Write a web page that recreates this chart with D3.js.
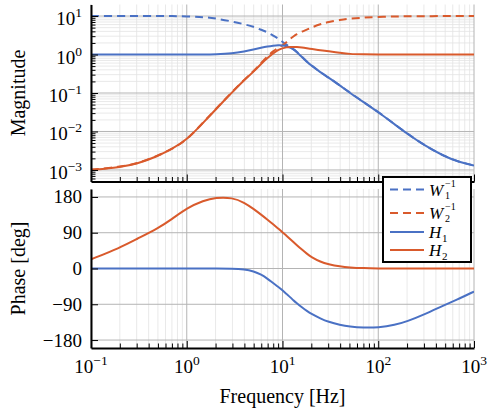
<!DOCTYPE html>
<meta charset="utf-8">
<script src="https://d3js.org/d3.v7.min.js"></script>
<style>
  body { margin: 0; background: #fff; }
</style>
<div id="my_dataviz"></div>
<script>

// frequencies in Hz (log spaced samples)
var freqs = [0.1, 0.2, 0.3, 0.5, 0.7, 1, 1.5, 2, 3, 4, 5, 6, 7, 8, 9, 10, 11, 12, 13, 14,
             16, 18, 20, 25, 30, 40, 50, 70, 100, 150, 200, 300, 500, 700, 1000];

// magnitudes
var magW1inv = [10, 10, 10, 10, 9.98, 9.85, 9.4, 8.7, 7.2, 6.1, 5.3, 4.35, 3.8, 3.1, 2.6,
                2.15, 1.8, 1.55, 1.38, 1.2, 0.87, 0.65, 0.525, 0.343, 0.257, 0.156, 0.104,
                0.0585, 0.0323, 0.0151, 0.0089, 0.00443, 0.00221, 0.00161, 0.00131];
var magW2inv = [0.00102, 0.0012, 0.00145, 0.00235, 0.00347, 0.006, 0.0176, 0.0377, 0.109,
                0.224, 0.37, 0.6, 0.92, 1.22, 1.5, 1.72, 2.1, 2.55, 2.95, 3.35, 3.95, 4.45,
                5.0, 6.2, 7.0, 7.9, 8.55, 9.1, 9.5, 9.75, 9.85, 9.93, 9.97, 10, 10];
var magH1 = [1, 1, 1, 1, 1, 1, 1, 1.01, 1.06, 1.2, 1.35, 1.5, 1.62, 1.7, 1.75, 1.74, 1.65,
             1.52, 1.36, 1.19, 0.86, 0.64, 0.52, 0.34, 0.255, 0.155, 0.103, 0.058, 0.032,
             0.015, 0.0088, 0.0044, 0.0022, 0.0016, 0.0013];
var magH2 = [0.001, 0.00118, 0.00142, 0.0023, 0.0035, 0.006, 0.0173, 0.037, 0.107, 0.22,
             0.36, 0.58, 0.82, 1.08, 1.31, 1.46, 1.54, 1.58, 1.58, 1.57, 1.52, 1.45, 1.39,
             1.29, 1.22, 1.11, 1.03, 1.01, 1, 1, 1, 1, 1, 1, 1];

// phases in degrees
var phaseH1 = [0, 0, 0, 0, 0, 0, 0, 0, 0, -2, -7, -15, -26, -37, -46, -55, -64, -72, -80,
               -87, -98, -107, -114, -126, -134, -142, -146, -149, -148.5, -142, -133, -116,
               -91, -76, -58];
var phaseH2 = [23, 52, 74, 101, 124, 152, 171, 178.5, 178.5, 166, 149.7, 135.3, 122.5, 111,
               100.7, 91.5, 82.3, 74, 66.5, 59.5, 47.2, 37, 29, 16.5, 11, 5, 2.6, 0.8, 0.2,
               0, 0, 0, 0, 0, 0];

// ticks
var freqTicks = [0.1, 1, 10, 100, 1000];
var freqExps = ["\u22121", "0", "1", "2", "3"];
var magTicks = [0.001, 0.01, 0.1, 1, 10];
var magExps = ["\u22123", "\u22122", "\u22121", "0", "1"];
var phaseTicks = [-180, -90, 0, 90, 180];

var blue = "#4a71c4", red = "#d95a2c";
var serif = "Liberation Serif";

var series = [
  {name: "W1", mag: magW1inv, color: blue, dash: "8,5"},
  {name: "W2", mag: magW2inv, color: red, dash: "8,5"},
  {name: "H1", mag: magH1, phase: phaseH1, color: blue, dash: null},
  {name: "H2", mag: magH2, phase: phaseH2, color: red, dash: null}
];

var W = 498, H = 417;
var svg = d3.select("#my_dataviz").append("svg")
  .attr("width", W).attr("height", H);

var x = d3.scaleLog().domain([0.1, 1000]).range([91, 474]);
var yMag = d3.scaleLog().domain([Math.pow(10, -3.3), Math.pow(10, 1.3)]).range([181.5, 4.5]);
var yPh = d3.scaleLinear().domain([-200, 200]).range([348, 189]);

// minor tick values
var minorX = [];
[0.1, 1, 10, 100].forEach(function(d) {
  for (var k = 2; k <= 9; k++) minorX.push(d * k);
});
var minorMag = [];
[0.0001, 0.001, 0.01, 0.1, 1, 10].forEach(function(d) {
  for (var k = 2; k <= 9; k++) {
    var v = d * k;
    if (v > yMag.domain()[0] && v < yMag.domain()[1]) minorMag.push(v);
  }
});

function panel(y, top, bottom, minorY, majorY) {
  var g = svg.append("g");
  // minor grid
  g.selectAll(".mgx").data(minorX).enter().append("line")
    .attr("x1", x).attr("x2", x).attr("y1", top).attr("y2", bottom)
    .attr("stroke", "#e3e3e3").attr("stroke-width", 0.8);
  g.selectAll(".mgy").data(minorY).enter().append("line")
    .attr("x1", 91).attr("x2", 474).attr("y1", y).attr("y2", y)
    .attr("stroke", "#e3e3e3").attr("stroke-width", 0.8);
  // major grid
  g.selectAll(".gx").data(freqTicks).enter().append("line")
    .attr("x1", x).attr("x2", x).attr("y1", top).attr("y2", bottom)
    .attr("stroke", "#b4b4b4").attr("stroke-width", 1);
  g.selectAll(".gy").data(majorY).enter().append("line")
    .attr("x1", 91).attr("x2", 474).attr("y1", y).attr("y2", y)
    .attr("stroke", "#b4b4b4").attr("stroke-width", 1);
  return g;
}

panel(yMag, 4.5, 181.5, minorMag, magTicks);
panel(yPh, 189, 348, [], phaseTicks);

// clip paths
var defs = svg.append("defs");
defs.append("clipPath").attr("id", "clipMag").append("rect")
  .attr("x", 91).attr("y", 4.5).attr("width", 383).attr("height", 177);
defs.append("clipPath").attr("id", "clipPh").append("rect")
  .attr("x", 91).attr("y", 189).attr("width", 383).attr("height", 159);

// curves
series.forEach(function(s) {
  var pts = freqs.map(function(f, i) { return {f: f, v: s.mag[i]}; });
  var line = d3.line()
    .x(function(d) { return x(d.f); })
    .y(function(d) { return yMag(d.v); })
    .curve(d3.curveBasis);
  svg.append("path").datum(pts)
    .attr("clip-path", "url(#clipMag)")
    .attr("d", line)
    .attr("fill", "none").attr("stroke", s.color).attr("stroke-width", 2)
    .attr("stroke-dasharray", s.dash);
  if (s.phase) {
    var ppts = freqs.map(function(f, i) { return {f: f, v: s.phase[i]}; });
    var pline = d3.line()
      .x(function(d) { return x(d.f); })
      .y(function(d) { return yPh(d.v); })
      .curve(d3.curveBasis);
    svg.append("path").datum(ppts)
      .attr("clip-path", "url(#clipPh)")
      .attr("d", pline)
      .attr("fill", "none").attr("stroke", s.color).attr("stroke-width", 2);
  }
});

// axes: ticks inside
function xAxis(yPos, labels) {
  svg.append("g").attr("transform", "translate(0," + yPos + ")")
    .call(d3.axisBottom(x).tickValues(minorX).tickSize(-4.5).tickSizeOuter(0).tickFormat(""))
    .call(function(g) { g.select(".domain").remove(); });
  var ax = svg.append("g").attr("transform", "translate(0," + yPos + ")")
    .call(d3.axisBottom(x).tickValues(freqTicks).tickSize(-7).tickSizeOuter(0).tickFormat(""));
  ax.select(".domain").attr("stroke-width", 2);
  if (labels) {
    var t = svg.selectAll(".xlab").data(freqTicks).enter().append("text")
      .attr("x", function(d) { return x(d); })
      .attr("y", yPos + 25)
      .attr("text-anchor", "middle")
      .attr("font-family", serif)
      .attr("font-size", 19);
    t.append("tspan").text("10");
    t.append("tspan").attr("dy", -8).attr("font-size", 13.5)
      .text(function(d, i) { return freqExps[i]; });
  }
}
xAxis(181.5, false);
xAxis(348, true);

// magnitude y axis
svg.append("g").attr("transform", "translate(91,0)")
  .call(d3.axisLeft(yMag).tickValues(minorMag).tickSize(-4.5).tickSizeOuter(0).tickFormat(""))
  .call(function(g) { g.select(".domain").remove(); });
var ay = svg.append("g").attr("transform", "translate(91,0)")
  .call(d3.axisLeft(yMag).tickValues(magTicks).tickSize(-7).tickSizeOuter(0).tickFormat(""));
ay.select(".domain").attr("stroke-width", 2);
var tm = svg.selectAll(".ylab").data(magTicks).enter().append("text")
  .attr("x", 82).attr("y", function(d) { return yMag(d) + 9; })
  .attr("text-anchor", "end")
  .attr("font-family", serif)
  .attr("font-size", 19);
tm.append("tspan").text("10");
tm.append("tspan").attr("dy", -8).attr("font-size", 13.5)
  .text(function(d, i) { return magExps[i]; });

// phase y axis
var ap = svg.append("g").attr("transform", "translate(91,0)")
  .call(d3.axisLeft(yPh).tickValues(phaseTicks).tickSize(-7).tickSizeOuter(0).tickFormat(""));
ap.select(".domain").attr("stroke-width", 2);
svg.selectAll(".plab").data(phaseTicks).enter().append("text")
  .attr("x", 82).attr("y", function(d) { return yPh(d) + 6.5; })
  .attr("text-anchor", "end")
  .attr("font-family", serif)
  .attr("font-size", 19)
  .text(function(d) { return d < 0 ? "\u2212" + (-d) : d; });

// axis titles
function title(txt) {
  return svg.append("text").attr("text-anchor", "middle")
    .attr("font-family", serif).attr("font-size", 20).text(txt);
}
title("Magnitude").attr("transform", "translate(25,93)rotate(-90)");
title("Phase [deg]").attr("transform", "translate(25,268.5)rotate(-90)");
title("Frequency [Hz]").attr("x", 282.5).attr("y", 403);

// legend
var lg = svg.append("g");
lg.append("rect").attr("x", 383).attr("y", 177).attr("width", 88).attr("height", 85)
  .attr("fill", "#fff").attr("stroke", "#000").attr("stroke-width", 2);
var rows = [189.5, 213, 232, 250];
var legLabels = [
  {main: "W", sub: "1", sup: "\u22121"},
  {main: "W", sub: "2", sup: "\u22121"},
  {main: "H", sub: "1", sup: null},
  {main: "H", sub: "2", sup: null}
];
series.forEach(function(s, i) {
  var yy = rows[i];
  lg.append("line").attr("x1", 390).attr("x2", 424).attr("y1", yy).attr("y2", yy)
    .attr("stroke", s.color).attr("stroke-width", 2).attr("stroke-dasharray", s.dash);
  var L = legLabels[i];
  lg.append("text").attr("x", 429).attr("y", yy + 6)
    .attr("font-family", serif)
    .attr("font-size", 17).attr("font-style", "italic").text(L.main);
  var sx = L.main === "W" ? 445 : 442;
  lg.append("text").attr("x", sx).attr("y", L.sup ? yy + 9 : yy + 10)
    .attr("font-family", serif)
    .attr("font-size", L.sup ? 10 : 11).text(L.sub);
  if (L.sup) {
    lg.append("text").attr("x", sx).attr("y", yy - 3)
      .attr("font-family", serif)
      .attr("font-size", 10).text(L.sup);
  }
});

</script>
